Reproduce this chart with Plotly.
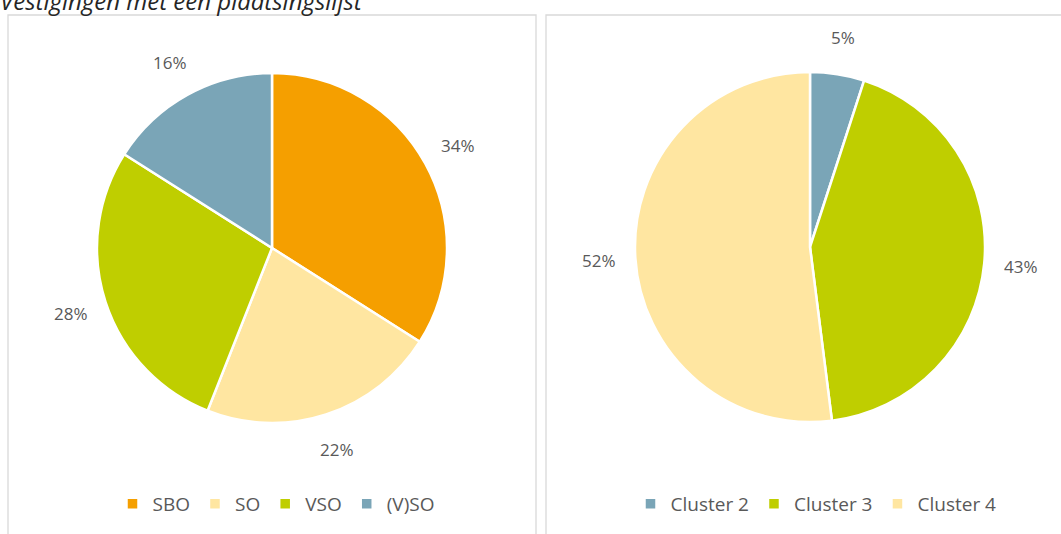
import math
import plotly.graph_objects as go

W, H = 1061, 534

left_labels = ["SBO", "SO", "VSO", "(V)SO"]
left_values = [34, 22, 28, 16]
left_colors = ["#F59F00", "#FFE6A1", "#BFCE00", "#7AA5B7"]

right_labels = ["Cluster 2", "Cluster 3", "Cluster 4"]
right_values = [5, 43, 52]
right_colors = ["#7AA5B7", "#BFCE00", "#FFE6A1"]

title_text = "Vestigingen met een plaatsingslijst"

FONT = "Open Sans, Liberation Sans, sans-serif"
TXT = "#595959"

# pie geometry (pixels)
R = 175
left_c = (272, 248)
right_c = (810, 247)


def domain(c):
    cx, cy = c
    return dict(x=[(cx - R) / W, (cx + R) / W],
                y=[(H - (cy + R)) / H, (H - (cy - R)) / H])


fig = go.Figure()
fig.add_trace(go.Pie(labels=left_labels, values=left_values, sort=False,
                     direction="clockwise", rotation=0,
                     marker=dict(colors=left_colors, line=dict(color="white", width=2.5)),
                     textinfo="none", hoverinfo="label+percent",
                     domain=domain(left_c), legend="legend"))
fig.add_trace(go.Pie(labels=right_labels, values=right_values, sort=False,
                     direction="clockwise", rotation=0,
                     marker=dict(colors=right_colors, line=dict(color="white", width=2.5)),
                     textinfo="none", hoverinfo="label+percent",
                     domain=domain(right_c), legend="legend2"))

annotations = []


def add_labels(values, c):
    total = sum(values)
    cum = 0
    cx, cy = c
    for v in values:
        mid = (cum + v / 2) / total * 2 * math.pi
        cum += v
        rl = R * 1.21
        px = cx + rl * math.sin(mid)
        py = cy - rl * math.cos(mid)
        annotations.append(dict(x=px / W, y=(H - py) / H, xref="paper", yref="paper",
                                text=f"{round(v / total * 100)}%", showarrow=False,
                                xanchor="center", yanchor="middle",
                                font=dict(family=FONT, size=17, color=TXT)))


add_labels(left_values, left_c)
add_labels(right_values, right_c)

annotations.append(dict(x=-2 / W, y=(H - 0) / H, xref="paper", yref="paper",
                        text=f"<i>{title_text}</i>", showarrow=False,
                        xanchor="left", yanchor="middle",
                        font=dict(family=FONT, size=24, color="#262626")))

shapes = [
    dict(type="rect", xref="paper", yref="paper",
         x0=8 / W, x1=536 / W, y0=-0.05, y1=(H - 15) / H,
         line=dict(color="#D9D9D9", width=1.3), fillcolor="rgba(0,0,0,0)"),
    dict(type="rect", xref="paper", yref="paper",
         x0=546 / W, x1=1.05, y0=-0.05, y1=(H - 15) / H,
         line=dict(color="#D9D9D9", width=1.3), fillcolor="rgba(0,0,0,0)"),
]

legend_common = dict(orientation="h", xanchor="center", yanchor="middle",
                     font=dict(family=FONT, size=19, color=TXT),
                     bgcolor="rgba(0,0,0,0)", itemclick=False, itemdoubleclick=False,
                     tracegroupgap=0)

fig.update_layout(
    width=W, height=H,
    margin=dict(l=0, r=0, t=0, b=0),
    paper_bgcolor="white",
    plot_bgcolor="white",
    showlegend=True,
    legend=dict(x=276 / W, y=(H - 504) / H, **legend_common),
    legend2=dict(x=816 / W, y=(H - 504) / H, **legend_common),
    annotations=annotations,
    shapes=shapes,
)

fig.write_html("out.html", config={"displayModeBar": False},
               post_script="document.body.style.margin='0';document.body.style.padding='0';")
